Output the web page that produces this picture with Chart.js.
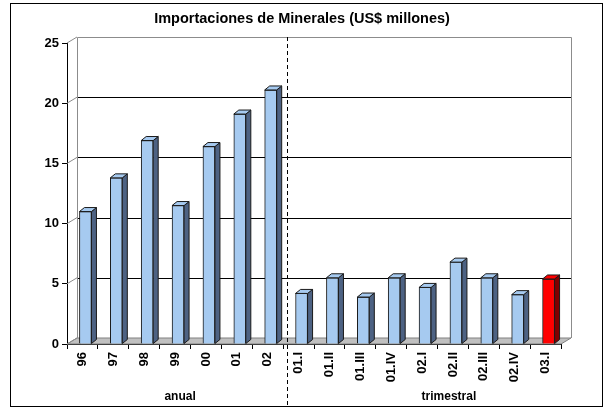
<!DOCTYPE html>
<html>
<head>
<meta charset="utf-8">
<script src="https://cdn.jsdelivr.net/npm/chart.js@4.4.1/dist/chart.umd.min.js"></script>
<style>
  html, body { margin: 0; padding: 0; background: #fff; }
  #wrap { width: 608px; height: 409px; }
</style>
</head>
<body>
<div id="wrap"><canvas id="mineralChart" width="608" height="409"></canvas></div>
<script>
// Data
const chartTitle = "Importaciones de Minerales (US$ millones)";
const annualLabels = ["96", "97", "98", "99", "00", "01", "02"];
const annualValues = [11.0, 13.8, 16.9, 11.5, 16.4, 19.1, 21.1];
const quarterLabels = ["01.I", "01.II", "01.III", "01.IV", "02.I", "02.II", "02.III", "02.IV", "03.I"];
const quarterValues = [4.2, 5.5, 3.9, 5.5, 4.7, 6.8, 5.5, 4.1, 5.4];
const yTicks = [0, 5, 10, 15, 20, 25];

const labels = annualLabels.concat(quarterLabels);
const values = annualValues.concat(quarterValues);
const frontColors = labels.map((l, i) => i === labels.length - 1 ? "#ff0000" : "#a6caf0");
const sideColors = labels.map((l, i) => i === labels.length - 1 ? "#800000" : "#4d6283");

// depth of the 3D look
const DX = 10, DY = -6;
const BAR_DX = 5, BAR_DY = -4;
const SHIFT = 3;
const FONT = "Arial, 'Liberation Sans'";

const ctx = document.getElementById("mineralChart").getContext("2d");

const chart3d = {
  id: "chart3d",
  beforeDraw(chart) {
    const c = chart.ctx;
    c.save();
    c.fillStyle = "#fff";
    c.fillRect(0, 0, chart.width, chart.height);
    c.strokeStyle = "#000";
    c.lineWidth = 1;
    c.strokeRect(10.5, 3.5, 592, 403);
    // title
    c.fillStyle = "#000";
    c.font = "bold 14.5px " + FONT;
    c.textAlign = "center";
    c.textBaseline = "middle";
    c.fillText(chartTitle, 302, 19);
    c.restore();
  },
  beforeDatasetsDraw(chart) {
    const c = chart.ctx;
    const area = chart.chartArea;
    const y = chart.scales.y;
    c.save();
    // floor
    const y0 = y.getPixelForValue(0);
    c.fillStyle = "#c0c0c0";
    c.strokeStyle = "#808080";
    c.beginPath();
    c.moveTo(area.left, y0);
    c.lineTo(area.right, y0);
    c.lineTo(area.right + DX, y0 + DY);
    c.lineTo(area.left + DX, y0 + DY);
    c.closePath();
    c.fill();
    c.stroke();
    // back wall gridlines
    c.strokeStyle = "#000";
    c.lineWidth = 1;
    yTicks.forEach(v => {
      if (v === 0 || v === 25) return;
      const py = Math.round(y.getPixelForValue(v) + DY) + 0.5;
      c.beginPath();
      c.moveTo(area.left + DX, py);
      c.lineTo(area.right + DX, py);
      c.stroke();
    });
    // wall edges
    const yTop = Math.round(y.getPixelForValue(25) + DY) + 0.5;
    c.strokeStyle = "#8c8c8c";
    c.beginPath();
    c.moveTo(area.left + DX + 0.5, y0 + DY);
    c.lineTo(area.left + DX + 0.5, yTop);
    c.lineTo(area.right + DX + 0.5, yTop);
    c.lineTo(area.right + DX + 0.5, y0 + DY);
    c.stroke();
    // side wall diagonals at each tick
    yTicks.forEach(v => {
      const py = y.getPixelForValue(v);
      c.beginPath();
      c.moveTo(area.left, py);
      c.lineTo(area.left + DX, py + DY);
      c.stroke();
    });
    c.restore();
    ctx.save();
    ctx.translate(SHIFT, 0);
  },
  afterDatasetsDraw(chart) {
    const c = chart.ctx;
    const meta = chart.getDatasetMeta(0);
    c.lineWidth = 1;
    c.strokeStyle = "#1a1a1a";
    meta.data.forEach((bar, i) => {
      const p = bar.getProps(["x", "y", "base", "width"], true);
      const l = p.x - p.width / 2, r = p.x + p.width / 2;
      // side
      c.fillStyle = sideColors[i];
      c.beginPath();
      c.moveTo(r, p.y);
      c.lineTo(r + BAR_DX, p.y + BAR_DY);
      c.lineTo(r + BAR_DX, p.base + BAR_DY);
      c.lineTo(r, p.base);
      c.closePath();
      c.fill();
      c.stroke();
      // top
      c.fillStyle = frontColors[i];
      c.beginPath();
      c.moveTo(l, p.y);
      c.lineTo(l + BAR_DX, p.y + BAR_DY);
      c.lineTo(r + BAR_DX, p.y + BAR_DY);
      c.lineTo(r, p.y);
      c.closePath();
      c.fill();
      c.stroke();
    });
    c.restore();
  },
  afterDraw(chart) {
    const c = chart.ctx;
    const x = chart.scales.x;
    const area = chart.chartArea;
    c.save();
    // dashed separator between annual and quarterly data
    const sep = Math.round((x.getPixelForValue(annualLabels.length - 1) + x.getPixelForValue(annualLabels.length)) / 2 + 4) + 0.5;
    c.strokeStyle = "#000";
    c.setLineDash([4, 3]);
    c.beginPath();
    c.moveTo(sep, area.top + DY);
    c.lineTo(sep, 406);
    c.stroke();
    c.setLineDash([]);
    // group labels
    c.fillStyle = "#000";
    c.font = "bold 12px " + FONT;
    c.textAlign = "center";
    c.textBaseline = "middle";
    const midAnnual = (x.getPixelForValue(0) + x.getPixelForValue(annualLabels.length - 1)) / 2 + 5;
    c.fillText("anual", midAnnual, 397);
    c.fillText("trimestral", x.getPixelForValue(12) - 4, 397);
    c.restore();
  }
};

const mineralChart = new Chart(ctx, {
  type: "bar",
  data: {
    labels: labels,
    datasets: [
      {
        data: values,
        backgroundColor: frontColors,
        borderColor: "#1a1a1a",
        borderWidth: 1,
        barThickness: 12
      }
    ]
  },
  options: {
    responsive: false,
    animation: false,
    layout: { padding: { left: 0, right: 47, top: 43, bottom: 0 } },
    plugins: {
      legend: { display: false },
      tooltip: { enabled: false },
      title: { display: false }
    },
    scales: {
      x: {
        grid: { display: true, drawOnChartArea: false, offset: true, tickLength: 5, color: "#000" },
        border: { display: true, color: "#000" },
        ticks: {
          color: "#000",
          font: { family: FONT, size: 13, weight: "bold" },
          minRotation: 90,
          maxRotation: 90,
          padding: 3,
          autoSkip: false
        },
        afterFit(scale) { scale.height = 65; }
      },
      y: {
        min: 0,
        max: 25,
        grid: { display: true, drawOnChartArea: false, tickLength: 5, color: "#000" },
        border: { display: true, color: "#000" },
        ticks: {
          stepSize: 5,
          color: "#000",
          font: { family: FONT, size: 13, weight: "bold" },
          padding: 3
        },
        afterFit(scale) { scale.width = 67; }
      }
    }
  },
  plugins: [chart3d]
});
</script>
</body>
</html>
